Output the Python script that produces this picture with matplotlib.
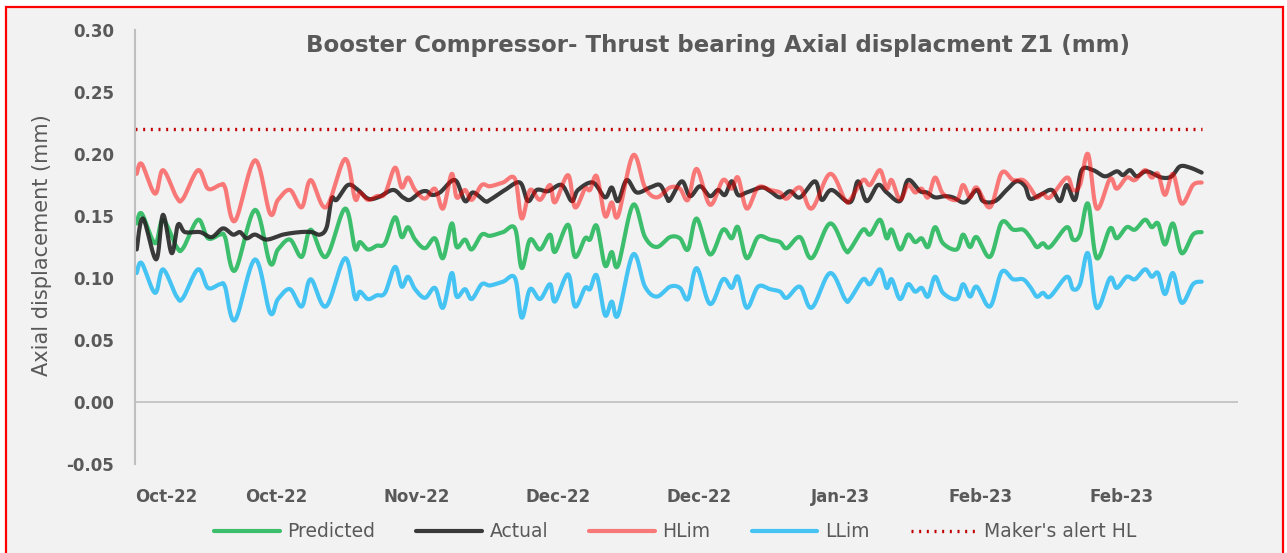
import numpy as np
import matplotlib
matplotlib.use("Agg")
from matplotlib import pyplot as plt
from matplotlib.patches import Rectangle

plt.rcParams['font.family'] = ['DejaVu Sans']

# day offsets of the sampled turning points (from 05-Oct-2022) and values in mm
pred_day = [0.24, 0.95, 2.84, 3.97, 5.91, 6.81, 8.94, 10.35, 12.06, 12.77, 14.18, 17.02,
            19.15, 20.28, 21.99, 23.65, 24.92, 27.09, 29.79, 31.2, 31.9, 33.05, 34.28,
            35.46, 36.88, 37.83, 38.72, 39.72, 41.13, 42.55, 43.69, 44.92, 45.63, 46.81,
            47.76, 49.18, 50.35, 52.2, 53.9, 54.85, 56.03, 57.45, 58.87, 59.57, 61.42,
            62.41, 63.83, 64.54, 65.5, 66.67, 67.62, 68.51, 70.64, 72.34, 74.0, 75.89,
            77.3, 78.44, 79.67, 81.56, 83.4, 84.63, 85.53, 86.77, 88.37, 90.07, 91.49,
            92.44, 94.33, 95.99, 98.58, 100.71, 101.42, 103.26, 104.26, 105.67, 106.62,
            107.33, 108.51, 109.65, 110.64, 111.59, 112.48, 113.48, 114.61, 116.55,
            117.45, 118.44, 119.39, 121.28, 122.94, 124.54, 125.96, 126.95, 127.9,
            128.79, 129.79, 132.16, 133.05, 134.04, 135.18, 136.41, 138.3, 139.25,
            140.67, 141.84, 143.26, 144.21, 145.11, 146.1, 147.23, 148.47, 150.07, 151.3]
predicted = [0.144, 0.152, 0.128, 0.147, 0.125, 0.124, 0.147, 0.132, 0.135, 0.133, 0.106,
             0.155, 0.112, 0.123, 0.131, 0.117, 0.139, 0.117, 0.156, 0.124, 0.129, 0.123,
             0.126, 0.128, 0.149, 0.133, 0.141, 0.131, 0.124, 0.132, 0.116, 0.144, 0.125,
             0.131, 0.123, 0.135, 0.134, 0.137, 0.140, 0.108, 0.131, 0.123, 0.135, 0.121,
             0.143, 0.117, 0.132, 0.131, 0.142, 0.110, 0.121, 0.110, 0.159, 0.133, 0.125,
             0.133, 0.132, 0.123, 0.148, 0.119, 0.139, 0.132, 0.141, 0.116, 0.133, 0.131,
             0.129, 0.124, 0.133, 0.116, 0.144, 0.123, 0.123, 0.139, 0.135, 0.147, 0.132,
             0.139, 0.123, 0.135, 0.129, 0.132, 0.125, 0.141, 0.128, 0.123, 0.135, 0.125,
             0.133, 0.117, 0.145, 0.139, 0.139, 0.133, 0.125, 0.128, 0.125, 0.141, 0.131,
             0.135, 0.160, 0.116, 0.140, 0.132, 0.141, 0.139, 0.147, 0.141, 0.144, 0.127,
             0.144, 0.120, 0.135, 0.137]

act_day = [0.24, 1.13, 3.0, 3.97, 5.2, 6.1, 7.09, 9.22, 10.88, 12.48, 13.9, 14.89, 15.84,
           17.02, 18.68, 20.99, 23.4, 25.06, 26.24, 27.19, 27.9, 28.6, 30.21, 31.63, 33.05,
           34.47, 36.6, 38.01, 39.0, 40.43, 41.38, 42.09, 43.26, 45.39, 46.81, 47.94, 49.65,
           50.35, 52.48, 54.61, 55.74, 56.98, 58.58, 60.52, 61.94, 62.84, 64.96, 66.67,
           67.62, 68.51, 69.74, 71.16, 73.05, 74.47, 75.42, 75.89, 77.55, 78.72, 80.14,
           81.56, 82.7, 83.69, 84.64, 85.53, 86.77, 88.89, 90.07, 91.49, 92.91, 94.33,
           96.45, 97.4, 98.82, 101.42, 102.55, 103.79, 105.39, 106.62, 108.51, 109.65,
           111.35, 112.3, 113.48, 114.89, 116.03, 117.73, 119.39, 120.28, 121.99, 123.64,
           125.06, 126.24, 126.95, 128.37, 130.03, 131.21, 132.16, 133.33, 134.28, 135.89,
           137.59, 139.25, 140.14, 141.13, 142.08, 143.5, 145.63, 147.04, 148.23, 149.65,
           151.3]
actual = [0.123, 0.148, 0.115, 0.151, 0.120, 0.143, 0.137, 0.137, 0.133, 0.140, 0.135,
          0.137, 0.132, 0.135, 0.131, 0.135, 0.137, 0.137, 0.135, 0.141, 0.164, 0.163,
          0.175, 0.171, 0.164, 0.165, 0.171, 0.165, 0.163, 0.169, 0.170, 0.167, 0.169,
          0.179, 0.162, 0.169, 0.162, 0.163, 0.171, 0.177, 0.162, 0.171, 0.170, 0.175,
          0.162, 0.171, 0.177, 0.165, 0.173, 0.162, 0.179, 0.169, 0.173, 0.175, 0.165,
          0.163, 0.178, 0.166, 0.174, 0.166, 0.171, 0.167, 0.178, 0.167, 0.169, 0.173,
          0.170, 0.165, 0.170, 0.165, 0.178, 0.163, 0.171, 0.161, 0.178, 0.162, 0.175,
          0.169, 0.162, 0.179, 0.170, 0.169, 0.165, 0.166, 0.165, 0.161, 0.171, 0.162,
          0.162, 0.171, 0.178, 0.174, 0.164, 0.167, 0.171, 0.162, 0.175, 0.163, 0.187,
          0.187, 0.182, 0.186, 0.183, 0.187, 0.182, 0.186, 0.181, 0.182, 0.190, 0.189,
          0.185]

band = 0.04          # HLim / LLim are Predicted +/- band
alert_hl = 0.22      # maker's alert high limit
tick_days = [0, 20, 40, 60, 80, 100, 120, 140]
tick_labels = ['Oct-22', 'Oct-22', 'Nov-22', 'Dec-22', 'Dec-22', 'Jan-23', 'Feb-23', 'Feb-23']


def smooth(x, y, n=12):
    # Catmull-Rom curve through the points, like a spreadsheet "smoothed line"
    p = np.column_stack([x, y]).astype(float)
    p = np.vstack([p[0], p, p[-1]])
    t = np.linspace(0, 1, n, endpoint=False)[:, None]
    out = []
    for i in range(1, len(p) - 2):
        p0, p1, p2, p3 = p[i - 1], p[i], p[i + 1], p[i + 2]
        seg = 0.5 * ((2 * p1) + (-p0 + p2) * t + (2 * p0 - 5 * p1 + 4 * p2 - p3) * t ** 2
                     + (-p0 + 3 * p1 - 3 * p2 + p3) * t ** 3)
        out.append(seg)
    out.append(p[-2][None, :])
    out = np.vstack(out)
    return out[:, 0], out[:, 1]


pd_ = np.array(pred_day)
pv = np.array(predicted)
ad = np.array(act_day)
av = np.array(actual)

fig = plt.figure(figsize=(12.87, 5.53), dpi=100)
fig.patch.set_facecolor('white')
fig.patches.append(Rectangle((6 / 1287, -0.05), 1277 / 1287, 1.05 - 7 / 553,
                             transform=fig.transFigure, facecolor='#F2F2F2',
                             edgecolor='#FF0000', linewidth=1.6, zorder=-10))

ax = fig.add_axes([135 / 1287, 89 / 553, 1103 / 1287, 434 / 553])
ax.set_facecolor('none')

gx, gy = smooth(pd_, pv)
bx, by = smooth(ad, av)
hx, hy = smooth(pd_, pv + band)
lx, ly = smooth(pd_, pv - band)

ax.plot(gx, gy, color='#3CBE6C', lw=3, label='Predicted', solid_capstyle='round')
ax.plot(bx, by, color='#262626', lw=3, alpha=0.9, label='Actual', solid_capstyle='round')
ax.plot(hx, hy, color='#FF0000', lw=3, alpha=0.5, label='HLim', solid_capstyle='round')
ax.plot(lx, ly, color='#45C3F3', lw=3, label='LLim', solid_capstyle='round')
ax.plot([0, pd_[-1]], [alert_hl, alert_hl], color='#C00000', lw=2.4,
        linestyle=(0, (0.6, 1.7)), label="Maker's alert HL")

ax.axhline(0, color='#BFBFBF', lw=1.2, zorder=0)
ax.set_xlim(0, 1103 / 7.05)
ax.set_ylim(-0.05, 0.30)
ax.set_yticks(np.arange(-0.05, 0.301, 0.05))
ax.set_yticklabels([f'{v:.2f}' for v in np.arange(-0.05, 0.301, 0.05)])
ax.set_xticks(tick_days)
ax.set_xticklabels(tick_labels)
ax.tick_params(axis='both', length=0, labelsize=12, labelcolor='#595959')
ax.tick_params(axis='y', pad=15)
ax.tick_params(axis='x', pad=17)
for lab in ax.get_xticklabels() + ax.get_yticklabels():
    lab.set_fontweight('bold')
ax.get_xticklabels()[0].set_horizontalalignment('left')

for s in ['top', 'right', 'bottom']:
    ax.spines[s].set_visible(False)
ax.spines['left'].set_color('#BFBFBF')
ax.spines['left'].set_linewidth(1.5)

fig.text(0.558, 0.918, 'Booster Compressor- Thrust bearing Axial displacment Z1 (mm)',
         ha='center', va='center', fontsize=16.5, fontweight='bold', color='#595959')
fig.text(0.033, 0.557, 'Axial displacement (mm)', rotation=90, ha='center', va='center',
         fontsize=15, color='#595959')

leg = fig.legend(loc='center', bbox_to_anchor=(0.5245, 0.038), ncol=5, frameon=False,
                 fontsize=13.5, handlelength=3.5, handletextpad=0.4, columnspacing=2.2)
for t in leg.get_texts():
    t.set_color('#595959')

fig.savefig('out.png', dpi=100)
